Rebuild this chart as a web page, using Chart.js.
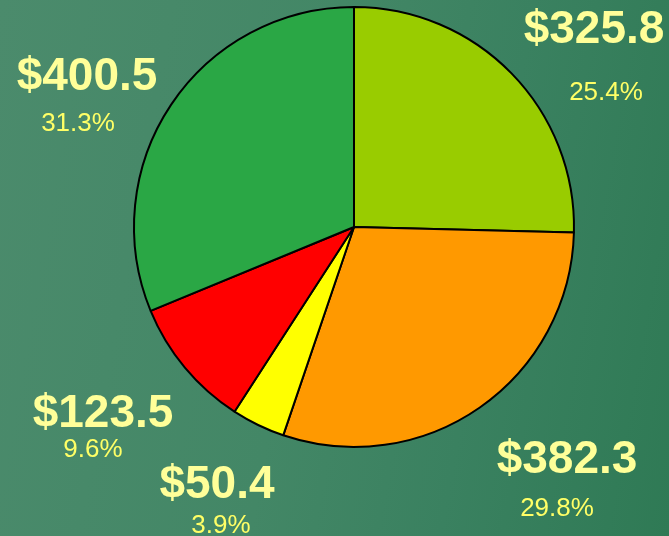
<!DOCTYPE html>
<html>
<head>
<meta charset="utf-8">
<script src="https://cdn.jsdelivr.net/npm/chart.js@4"></script>
<style>
  html, body { margin: 0; padding: 0; }
  body {
    width: 669px; height: 536px; overflow: hidden;
    background: linear-gradient(100deg, #4b8b6c 0%, #438766 45%, #3a8160 70%, #2f7a55 100%);
  }
  #wrap { position: relative; width: 669px; height: 536px; }
</style>
</head>
<body>
<div id="wrap"><canvas id="pie" width="669" height="536"></canvas></div>
<script>
// slice order: clockwise from 12 o'clock
const categories = ['A', 'B', 'C', 'D', 'E'];
const amounts = [325.8, 382.3, 50.4, 123.5, 400.5];
const percents = ['25.4%', '29.8%', '3.9%', '9.6%', '31.3%'];
const sliceColors = ['#99cc00', '#ff9900', '#ffff00', '#ff0000', '#2aa745'];

// where each label sits (center x, baseline of amount, baseline of percent)
const labelSpots = [
    { x: 594, y1: 43, px: 606, y2: 100 },
    { x: 567, y1: 473, px: 557, y2: 516 },
    { x: 217, y1: 498, px: 221, y2: 533 },
    { x: 103, y1: 427, px: 93, y2: 457 },
    { x: 87, y1: 90, px: 78, y2: 131 }
];

const outsideLabels = {
    id: 'outsideLabels',
    afterDraw(chart) {
        const ctx = chart.ctx;
        ctx.save();
        ctx.textAlign = 'center';
        ctx.textBaseline = 'alphabetic';
        amounts.forEach((v, i) => {
            const s = labelSpots[i];
            ctx.font = 'bold 46px "Liberation Sans", Arial, sans-serif';
            ctx.fillStyle = '#ffff99';
            ctx.fillText('$' + v.toFixed(1), s.x, s.y1);
            ctx.font = '26px "Liberation Sans", Arial, sans-serif';
            ctx.fillStyle = '#ffff66';
            ctx.fillText(percents[i], s.px, s.y2);
        });
        ctx.restore();
    }
};

new Chart(document.getElementById('pie'), {
    type: 'pie',
    data: {
        labels: categories,
        datasets: [{
            data: amounts,
            backgroundColor: sliceColors,
            borderColor: '#000000',
            borderWidth: 2
        }]
    },
    options: {
        responsive: false,
        animation: false,
        layout: { padding: { left: 133, right: 94, top: 6, bottom: 88 } },
        plugins: {
            legend: { display: false },
            tooltip: { enabled: false }
        }
    },
    plugins: [outsideLabels]
});
</script>
</body>
</html>
